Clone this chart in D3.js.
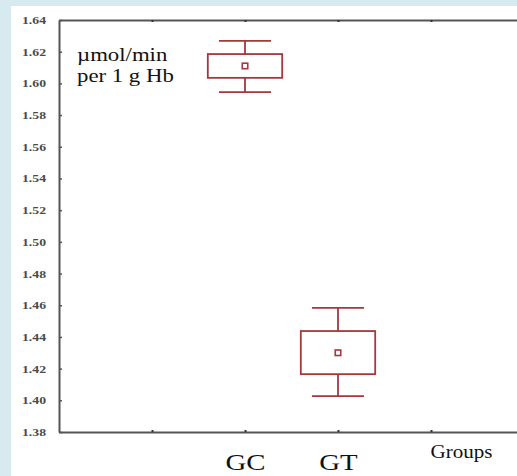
<!DOCTYPE html>
<html>
<head lang="en">
    <meta charset="UTF-8">
    <title>Groups box plot</title>
    <script src="https://cdnjs.cloudflare.com/ajax/libs/d3/7.8.5/d3.min.js" charset="utf-8"></script>
</head>
<body style="margin: 0; background: #d6eaf0">
<div id="chart"></div>
<script>

// values (mean, +/- box, +/- whisker)
var groups = ['GC', 'GT'];
var groupPos = [2, 3];
var means = [1.611, 1.430];
var boxLow = [1.6035, 1.4165];
var boxHigh = [1.6185, 1.4437];
var whiskerLow = [1.5945, 1.4027];
var whiskerHigh = [1.6268, 1.4583];
var yTicks = [1.38, 1.40, 1.42, 1.44, 1.46, 1.48, 1.50, 1.52, 1.54, 1.56, 1.58, 1.60, 1.62, 1.64];
var xTicks = [1, 2, 3, 4];
var xTickLabels = ['', 'GC', 'GT', ''];
var unitLines = ['\u00b5mol/min', 'per 1 g Hb'];

var svgWidth = 517, svgHeight = 476;
var margin = {top: 20, left: 59, bottom: 44};
var red = '#a3393d', axisColor = '#555';
var serif = '"Liberation Serif", "Times New Roman", Times, serif';

var svg = d3.select('#chart').append('svg')
    .attr('width', svgWidth)
    .attr('height', svgHeight)
    .style('display', 'block');

// white panel on the blue page
svg.append('rect')
    .attr('x', 11).attr('y', 6)
    .attr('width', svgWidth - 11).attr('height', svgHeight - 6)
    .attr('fill', '#fff');

var x = d3.scaleLinear().domain([0, 5]).range([margin.left, margin.left + 5 * 93]);
var y = d3.scaleLinear().domain([1.38, 1.64]).range([svgHeight - margin.bottom, margin.top]);
var step = x(1) - x(0);

// y axis
var yAxis = svg.append('g')
    .attr('transform', 'translate(' + margin.left + ',0)')
    .call(d3.axisLeft(y).tickValues(yTicks).tickFormat(d3.format('.2f')).tickSizeInner(-3).tickSizeOuter(0));
yAxis.attr('font-family', null);
yAxis.select('.domain').attr('stroke', axisColor).attr('stroke-width', 2);
yAxis.selectAll('.tick line').attr('stroke', axisColor).attr('stroke-width', 1.5);
yAxis.selectAll('.tick text')
    .attr('x', 0)
    .attr('transform', 'translate(-13,0) scale(1.25,1)')
    .attr('text-anchor', 'end')
    .style('font-family', serif)
    .style('font-size', '11px')
    .style('font-weight', 'bold')
    .attr('fill', '#4a4a4a');

// x axis (bottom) and top frame
var xAxis = svg.append('g')
    .attr('transform', 'translate(0,' + y(1.38) + ')')
    .call(d3.axisBottom(x).tickValues(xTicks).tickFormat(function(d, i) { return xTickLabels[i]; }).tickSizeInner(-2).tickSizeOuter(0));
xAxis.attr('font-family', null);
xAxis.select('.domain').attr('stroke', axisColor).attr('stroke-width', 2);
xAxis.selectAll('.tick line').attr('stroke', '#333').attr('stroke-width', 2);
xAxis.selectAll('.tick text')
    .attr('y', 0).attr('dy', 0)
    .attr('transform', 'translate(0,38) scale(1.2,1)')
    .style('font-family', serif)
    .style('font-size', '24px')
    .attr('fill', '#111');

var topAxis = svg.append('g')
    .attr('transform', 'translate(0,' + y(1.64) + ')')
    .call(d3.axisTop(x).tickValues(xTicks).tickFormat('').tickSizeInner(-2).tickSizeOuter(0));
topAxis.select('.domain').attr('stroke', axisColor).attr('stroke-width', 2);
topAxis.selectAll('.tick line').attr('stroke', '#333').attr('stroke-width', 2);

// axis title at last tick
svg.append('text')
    .attr('transform', 'translate(' + x(4) + ',' + (y(1.38) + 26) + ') scale(1.17,1)')
    .attr('x', 26)
    .attr('text-anchor', 'middle')
    .style('font-family', serif)
    .style('font-size', '18px')
    .attr('fill', '#111')
    .text('Groups');

// units label, one text per line
unitLines.forEach(function(t, i) {
    svg.append('text')
        .attr('transform', 'translate(77,' + (61 + i * 21) + ') scale(1.2,1)')
        .attr('font-family', 'Liberation Serif')
        .style('font-family', serif)
        .style('font-size', '19px')
        .attr('fill', '#111')
        .text(t);
});

// boxes
var plot = svg.append('g')
    .attr('fill', 'none')
    .attr('stroke', red)
    .attr('stroke-width', 1.8);

groups.forEach(function(g, i) {
    var cx = x(groupPos[i]);
    var bw = step * 0.8, cw = step * 0.56;
    // whisker stems
    plot.append('line')
        .attr('x1', cx).attr('x2', cx)
        .attr('y1', y(whiskerHigh[i])).attr('y2', y(boxHigh[i]));
    plot.append('line')
        .attr('x1', cx).attr('x2', cx)
        .attr('y1', y(boxLow[i])).attr('y2', y(whiskerLow[i]));
    // caps
    plot.append('line')
        .attr('x1', cx - cw / 2).attr('x2', cx + cw / 2)
        .attr('y1', y(whiskerHigh[i])).attr('y2', y(whiskerHigh[i]));
    plot.append('line')
        .attr('x1', cx - cw / 2).attr('x2', cx + cw / 2)
        .attr('y1', y(whiskerLow[i])).attr('y2', y(whiskerLow[i]));
    // box
    plot.append('rect')
        .attr('x', cx - bw / 2).attr('width', bw)
        .attr('y', y(boxHigh[i])).attr('height', y(boxLow[i]) - y(boxHigh[i]));
    // mean marker
    plot.append('rect')
        .attr('x', cx - 2.75).attr('y', y(means[i]) - 2.75)
        .attr('width', 5.5).attr('height', 5.5)
        .attr('stroke-width', 1.6);
});

</script>
</body>
</html>
